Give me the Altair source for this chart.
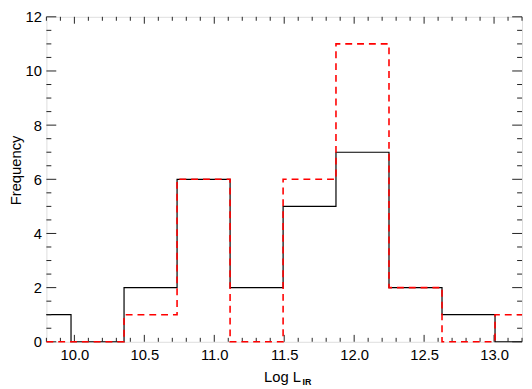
import altair as alt
import pandas as pd

# Histogram bin edges (Log L_IR) and counts
x_start = 9.8
x_end = 13.2
bin_edges = [9.976, 10.355, 10.734, 11.113, 11.492, 11.870, 12.249, 12.628, 13.007]
black_counts_left = 1          # partial bin at left edge
black_counts = [0, 2, 6, 2, 5, 7, 2, 1, 0]
red_counts_left = 0
red_counts = [0, 1, 6, 0, 6, 11, 2, 0, 1]

x_major = [10.0, 10.5, 11.0, 11.5, 12.0, 12.5, 13.0]
y_major = [0, 2, 4, 6, 8, 10, 12]
x_minor = [round(9.8 + 0.1 * i, 2) for i in range(35)]
y_minor = [0.5 * i for i in range(25)]

W, H = 483, 330
FONT = "Liberation Sans"

xs = [x_start] + bin_edges + [x_end]
black = pd.DataFrame({"x": xs, "y": [black_counts_left] + black_counts + [black_counts[-1]]})
red = pd.DataFrame({"x": xs, "y": [red_counts_left] + red_counts + [red_counts[-1]]})

xscale = alt.Scale(domain=[x_start, x_end], nice=False, zero=False)
yscale = alt.Scale(domain=[0, 12], nice=False)

xaxis = alt.Axis(values=x_major, format=".1f", title=None, ticks=False, tickSize=0,
                 domain=False, grid=False, labelFontSize=15, labelFont=FONT,
                 labelColor="black", labelPadding=6, labelFlush=False, labelOverlap=False)
yaxis = alt.Axis(values=y_major, format="d", title=None, ticks=False, tickSize=0,
                 domain=False, grid=False, labelFontSize=15, labelFont=FONT,
                 labelColor="black", labelPadding=5, labelOverlap=False)

base_black = alt.Chart(black).mark_line(interpolate="step-after", color="black", strokeWidth=1.2).encode(
    x=alt.X("x:Q", scale=xscale, axis=xaxis),
    y=alt.Y("y:Q", scale=yscale, axis=yaxis),
)
line_red = alt.Chart(red).mark_line(interpolate="step-after", color="#ff0000", strokeWidth=1.6,
                                     strokeDash=[7, 5]).encode(
    x=alt.X("x:Q", scale=xscale),
    y=alt.Y("y:Q", scale=yscale),
)

xmaj = pd.DataFrame({"t": x_major})
xmin = pd.DataFrame({"t": [v for v in x_minor if all(abs(v - m) > 1e-6 for m in x_major)]})
ymaj = pd.DataFrame({"t": y_major})
ymin = pd.DataFrame({"t": [v for v in y_minor if v not in y_major]})

tick_col = "#222222"

def xticks(df, length):
    bot = alt.Chart(df).mark_rule(color=tick_col, strokeWidth=1).encode(
        x=alt.X("t:Q", scale=xscale), y=alt.value(H), y2=alt.value(H - length))
    top = alt.Chart(df).mark_rule(color=tick_col, strokeWidth=1).encode(
        x=alt.X("t:Q", scale=xscale), y=alt.value(0), y2=alt.value(length))
    return [bot, top]

def yticks(df, length):
    left = alt.Chart(df).mark_rule(color=tick_col, strokeWidth=1).encode(
        y=alt.Y("t:Q", scale=yscale), x=alt.value(0), x2=alt.value(length))
    right = alt.Chart(df).mark_rule(color=tick_col, strokeWidth=1).encode(
        y=alt.Y("t:Q", scale=yscale), x=alt.value(W), x2=alt.value(W - length))
    return [left, right]

ticks = xticks(xmaj, 7) + xticks(xmin, 4) + yticks(ymaj, 10) + yticks(ymin, 5)

title_df = pd.DataFrame({"a": [0]})
xtitle = alt.Chart(title_df).mark_text(text="Log L", font=FONT, fontSize=15, align="left",
                                       baseline="alphabetic", color="black").encode(
    x=alt.value(221), y=alt.value(371))
xsub = alt.Chart(title_df).mark_text(text="IR", font=FONT, fontSize=9, fontWeight="bold", align="left",
                                     baseline="alphabetic", color="black").encode(
    x=alt.value(260), y=alt.value(374))
ytitle = alt.Chart(title_df).mark_text(text="Frequency", font=FONT, fontSize=15, align="center",
                                       baseline="alphabetic", angle=270, color="black").encode(
    x=alt.value(-26), y=alt.value(156))

chart = alt.layer(base_black, *ticks, line_red, xtitle, xsub, ytitle).properties(
    width=W, height=H,
    autosize=alt.AutoSizeParams(type="none"),
    padding={"left": 39, "top": 6, "right": 2, "bottom": 45},
).configure_view(stroke="black", strokeWidth=1).configure(background="white")

chart.save("out.html", embed_options={"renderer": "svg", "actions": False})
